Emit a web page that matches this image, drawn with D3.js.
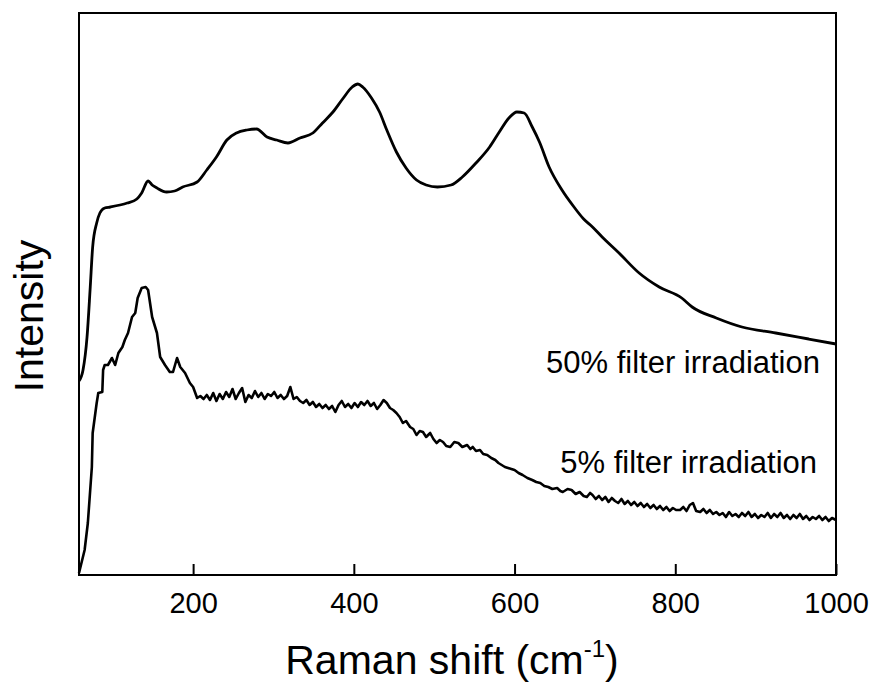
<!DOCTYPE html>
<html>
<head>
<meta charset="utf-8">
<script src="https://cdn.jsdelivr.net/npm/d3@7"></script>
<style>
  body { margin: 0; background: #fff; }
  text { font-family: "Liberation Sans", Arial, sans-serif; fill: #000; }
</style>
</head>
<body>
<div id="container"></div>
<script>
const width = 874;
const height = 685;
const margin = { top: 13, right: 38, bottom: 110, left: 79 };

// x: Raman shift (cm-1), y: intensity (a.u.)
const xTicks = [200, 400, 600, 800, 1000];

// [shift, intensity]
const spectrum50 = [
    [58, 194], [63, 205], [68, 238], [72, 288], [75, 328], [80, 352], [84, 362], [90, 367], [97, 368], [109, 370],
    [118, 372], [130, 376], [136, 382], [144, 394], [149, 390], [155, 387], [167, 383], [177, 384], [187, 388], [205, 393],
    [217, 405], [229, 418], [242, 435], [254, 442], [267, 445], [279, 446], [292, 438], [304, 435], [318, 432], [333, 437],
    [349, 442], [361, 452], [374, 463], [386, 476], [398, 488], [405, 491], [411, 488], [422, 477], [432, 463], [441, 445],
    [453, 423], [465, 407], [478, 395], [490, 390], [504, 388], [521, 390], [535, 398], [552, 412], [569, 428], [581, 443],
    [593, 457], [603, 463], [612, 462], [622, 448], [631, 433], [643, 408], [659, 385], [674, 368], [686, 356], [697, 348],
    [709, 338], [730, 322], [755, 302], [780, 288], [808, 277], [821, 268], [851, 257], [883, 248], [925, 242], [966, 236],
    [1000, 231]
];

const spectrum5 = [
    [58, 2], [65, 25], [69, 52], [74, 108], [75, 142], [80, 172], [82, 182], [87, 183], [88, 205], [90, 210],
    [94, 210], [99, 217], [103, 210], [107, 222], [112, 228], [115, 235], [119, 242], [124, 258], [128, 262], [131, 277],
    [136, 287], [141, 288], [144, 285], [149, 258], [155, 242], [159, 218], [165, 210], [171, 203], [175, 203], [180, 217],
    [184, 208], [190, 202], [196, 192], [200, 188], [205, 177], [209, 179], [213, 176], [217, 180], [221, 175], [225, 182],
    [229, 174], [233, 181], [237, 176], [241, 183], [245, 178], [249, 186], [253, 176], [257, 182], [261, 187], [265, 173],
    [269, 180], [273, 177], [277, 184], [281, 178], [285, 182], [289, 176], [293, 181], [297, 179], [301, 183], [305, 177],
    [309, 180], [313, 176], [317, 179], [321, 188], [325, 176], [329, 178], [333, 174], [337, 172], [341, 175], [345, 170],
    [349, 173], [353, 168], [357, 171], [361, 167], [365, 170], [369, 166], [373, 169], [377, 163], [381, 170], [385, 174],
    [389, 168], [393, 171], [397, 167], [401, 172], [405, 168], [409, 173], [413, 170], [417, 174], [421, 169], [425, 172],
    [429, 166], [433, 170], [437, 175], [441, 172], [445, 167], [449, 165], [453, 162], [457, 158], [461, 152], [465, 154],
    [470, 148], [474, 146], [478, 140], [482, 144], [486, 143], [490, 138], [495, 142], [499, 136], [503, 132], [507, 135],
    [511, 133], [515, 129], [520, 128], [525, 133], [530, 132], [535, 128], [541, 130], [545, 126], [548, 128], [552, 124],
    [557, 125], [561, 121], [566, 120], [571, 117], [576, 115], [580, 112], [584, 110], [588, 108], [592, 107], [596, 106],
    [600, 105], [605, 102], [610, 100], [616, 97], [622, 95], [627, 93], [632, 92], [637, 89], [642, 88], [647, 86],
    [653, 87], [657, 84], [660, 83], [666, 86], [671, 85], [676, 81], [681, 83], [686, 79], [690, 78], [694, 82],
    [697, 80], [701, 76], [705, 79], [709, 75], [713, 78], [717, 73], [721, 77], [725, 74], [729, 72], [733, 76],
    [737, 71], [741, 74], [745, 70], [749, 73], [753, 69], [757, 72], [761, 68], [765, 71], [769, 67], [773, 70],
    [777, 66], [781, 69], [785, 65], [789, 68], [793, 64], [797, 67], [801, 65], [806, 65], [810, 68], [814, 64],
    [818, 70], [822, 72], [826, 64], [831, 63], [835, 66], [839, 62], [843, 65], [847, 61], [851, 63], [855, 60],
    [859, 62], [863, 58], [867, 63], [871, 59], [875, 61], [879, 58], [883, 62], [887, 59], [891, 63], [895, 58],
    [899, 61], [903, 57], [907, 60], [911, 58], [915, 62], [919, 57], [923, 61], [927, 58], [931, 62], [935, 57],
    [939, 60], [943, 56], [947, 60], [951, 57], [955, 61], [959, 56], [963, 59], [967, 55], [971, 58], [975, 56],
    [979, 59], [983, 55], [987, 58], [991, 54], [995, 57], [1000, 55]
];

const labels = ["50% filter irradiation", "5% filter irradiation"];

const svg = d3.select("#container")
    .append("svg")
    .attr("width", width)
    .attr("height", height);

const x = d3.scaleLinear()
    .domain([58, 1000])
    .range([margin.left, width - margin.right]);
const y = d3.scaleLinear()
    .domain([0, 562])
    .range([height - margin.bottom, margin.top]);

const smooth = d3.line()
    .x((d) => x(d[0]))
    .y((d) => y(d[1]))
    .curve(d3.curveMonotoneX);
const noisy = d3.line()
    .x((d) => x(d[0]))
    .y((d) => y(d[1]));

svg.append("path")
    .attr("d", smooth(spectrum50))
    .attr("fill", "none")
    .attr("stroke", "#000")
    .attr("stroke-width", 2.8);
svg.append("path")
    .attr("d", noisy(spectrum5))
    .attr("fill", "none")
    .attr("stroke", "#000")
    .attr("stroke-width", 2.6)
    .attr("stroke-linejoin", "round");

// frame
svg.append("rect")
    .attr("x", x(58))
    .attr("y", y(562))
    .attr("width", x(1000) - x(58))
    .attr("height", y(0) - y(562))
    .attr("fill", "none")
    .attr("stroke", "#000")
    .attr("stroke-width", 2);

const xAxis = svg.append("g")
    .attr("transform", `translate(0,${y(0)})`)
    .call(d3.axisBottom(x)
        .tickValues(xTicks)
        .tickFormat(d3.format("d"))
        .tickSizeInner(-11)
        .tickSizeOuter(0)
        .tickPadding(17));
xAxis.select(".domain").remove();
xAxis.selectAll("line").attr("stroke-width", 2);
xAxis.selectAll("text")
    .style("font-size", "29px")
    .style("font-family", "'Liberation Sans', Arial, sans-serif");

// axis titles
const xt = svg.append("text")
    .attr("x", 452)
    .attr("y", 674)
    .attr("text-anchor", "middle")
    .style("font-size", "41px");
xt.append("tspan").text("Raman shift (cm");
xt.append("tspan").attr("dy", -17).style("font-size", "24px").text("-1");
xt.append("tspan").attr("dy", 17).text(")");

svg.append("text")
    .attr("transform", "translate(43,316) rotate(-90)")
    .attr("text-anchor", "middle")
    .style("font-size", "41px")
    .text("Intensity");

// series labels
svg.append("text")
    .attr("x", 820)
    .attr("y", 373)
    .attr("text-anchor", "end")
    .style("font-size", "31px")
    .text(labels[0]);
svg.append("text")
    .attr("x", 817)
    .attr("y", 473)
    .attr("text-anchor", "end")
    .style("font-size", "31px")
    .text(labels[1]);
</script>
</body>
</html>
